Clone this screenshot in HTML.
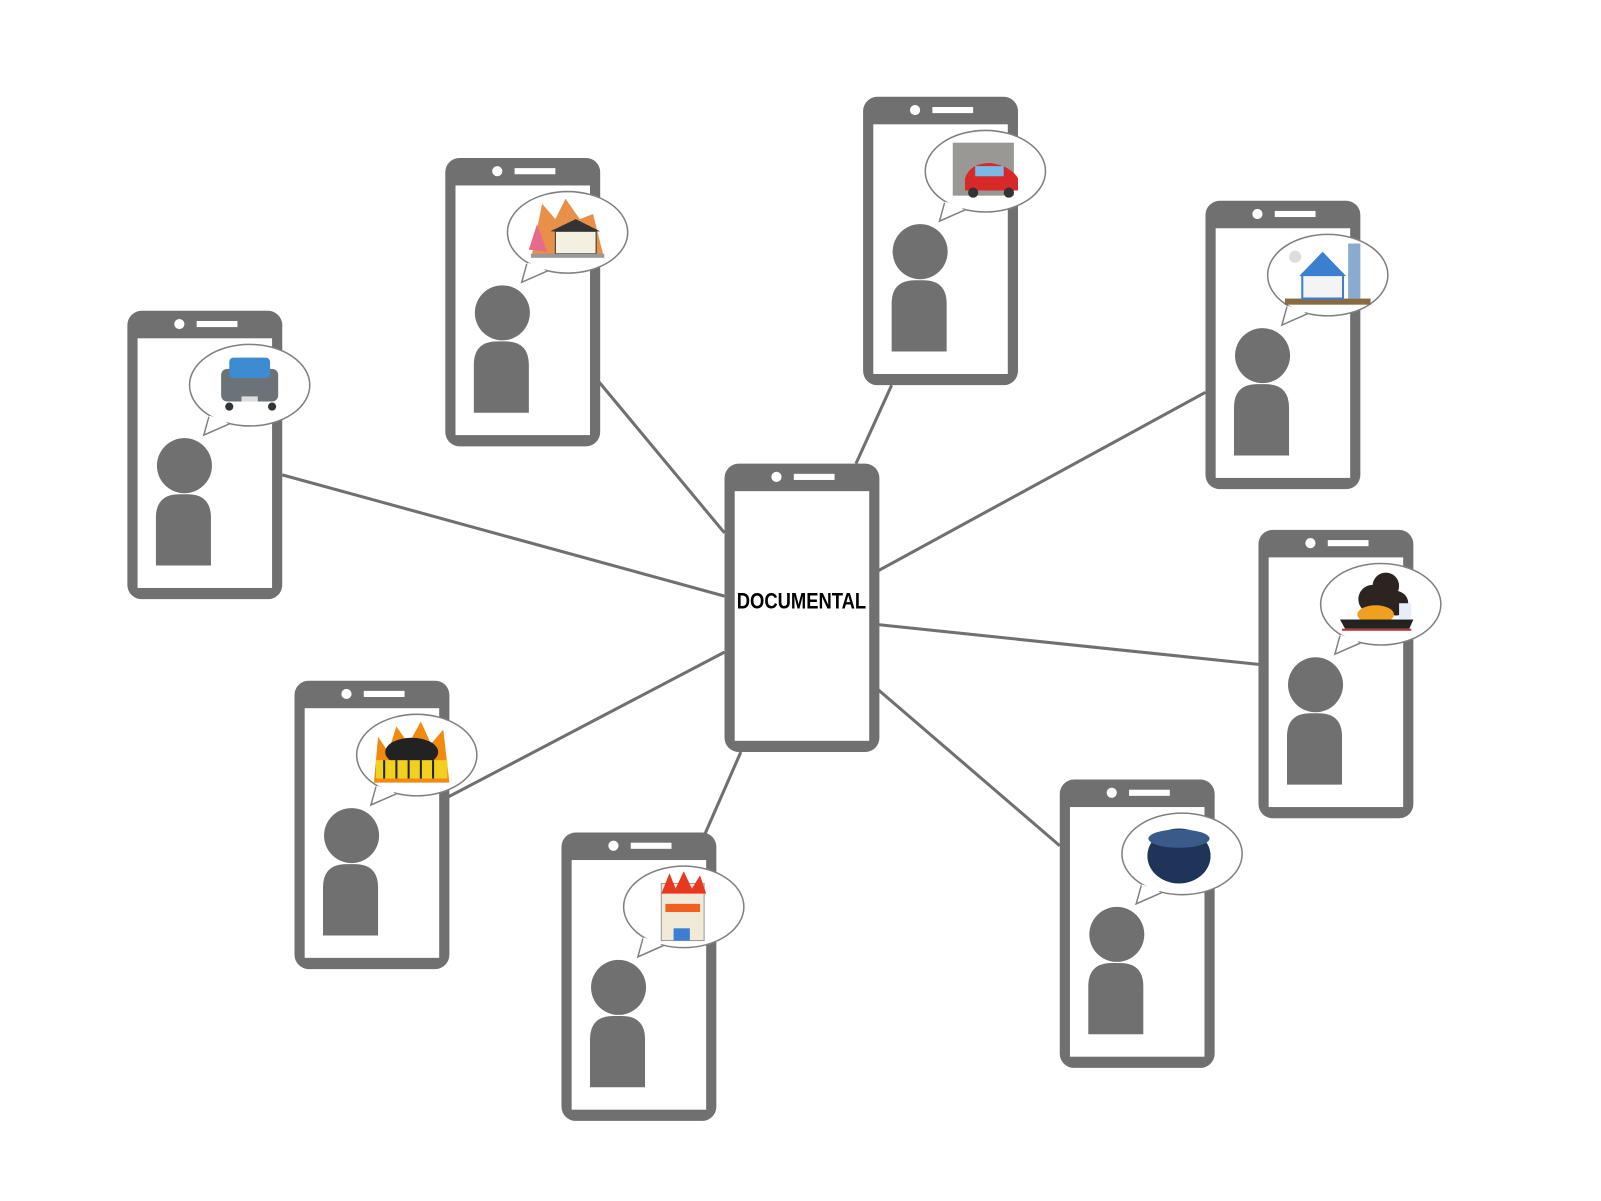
<!DOCTYPE html>
<html><head><meta charset="utf-8"><style>
html,body{margin:0;padding:0;background:#fff;width:1601px;height:1201px;overflow:hidden}
</style></head><body>
<svg width="1601" height="1201" viewBox="0 0 1601 1201" xmlns="http://www.w3.org/2000/svg">
<defs>
<g id="phone">
<rect x="0" y="0" width="152" height="283" rx="14" fill="#707070"/>
<rect x="10" y="27" width="132" height="245" fill="#fff"/>
<circle cx="51" cy="13" r="5" fill="#fff"/>
<rect x="68" y="10" width="40" height="6" fill="#fff"/>
</g>
<g id="person">
<circle cx="56" cy="152" r="27" fill="#707070"/>
<path d="M28,250 V203 Q28,180 51,180 H59 Q82,180 82,203 V250 Z" fill="#707070"/>
</g>
<g id="bubble">
<ellipse cx="120" cy="73" rx="59" ry="40" fill="#fff" stroke="#808080" stroke-width="1.5"/>
<path d="M80,104 L75,122 L100,111" fill="#fff" stroke="#808080" stroke-width="1.5"/>
<path d="M81,103 L77,118 L99,109 Z" fill="#fff"/>
</g>
</defs>
<g transform="scale(1.019)">
<g stroke="#707070" stroke-width="3" fill="none">
<line x1="277" y1="466" x2="711" y2="585"/>
<line x1="588" y1="375" x2="711" y2="523"/>
<line x1="875" y1="378" x2="840" y2="455"/>
<line x1="1183" y1="385" x2="862" y2="560"/>
<line x1="1235" y1="652" x2="862" y2="613"/>
<line x1="1040" y1="830" x2="862" y2="677"/>
<line x1="692" y1="818" x2="727" y2="738"/>
<line x1="440" y1="782" x2="711" y2="640"/>
</g>
<use href="#phone" x="711" y="455"/>
<text x="723" y="597" font-family="Liberation Sans, sans-serif" font-weight="bold" font-size="22" textLength="127" lengthAdjust="spacingAndGlyphs" fill="#000">DOCUMENTAL</text>

<g transform="translate(125,305)"><use href="#phone"/><use href="#person"/><use href="#bubble"/>
<rect x="92" y="57" width="56" height="32" rx="6" fill="#6b7378"/><rect x="100" y="46" width="40" height="20" rx="4" fill="#3d8bd0"/><circle cx="100" cy="94" r="4" fill="#333"/><circle cx="142" cy="94" r="4" fill="#333"/><rect x="112" y="84" width="16" height="5" fill="#ddd"/></g>
<g transform="translate(437,155)"><use href="#phone"/><use href="#person"/><use href="#bubble"/>
<path d="M85,95 L95,45 L108,60 L118,40 L132,60 L145,55 L155,95 Z" fill="#e8904a"/><path d="M82,90 L90,65 L100,92 Z" fill="#e86a8a"/><rect x="108" y="72" width="40" height="22" fill="#f4f0e0" stroke="#333"/><path d="M103,72 L128,60 L152,72 Z" fill="#333"/><rect x="84" y="94" width="72" height="4" fill="#999"/></g>
<g transform="translate(847,95)"><use href="#phone"/><use href="#person"/><use href="#bubble"/>
<rect x="88" y="45" width="60" height="52" fill="#9a9894"/><path d="M100,80 Q105,65 125,65 Q145,68 152,80 L152,92 L100,92 Z" fill="#d8282a"/><rect x="110" y="68" width="28" height="10" fill="#7ab8e8"/><circle cx="108" cy="94" r="5" fill="#333"/><circle cx="143" cy="94" r="5" fill="#333"/></g>
<g transform="translate(1183,197)"><use href="#phone"/><use href="#person"/><use href="#bubble"/>
<rect x="78" y="96" width="84" height="6" fill="#8a6a40"/><path d="M95,96 V72 L115,55 L135,72 V96 Z" fill="#f4f4f4" stroke="#3b7fd0" stroke-width="2"/><path d="M92,74 L115,50 L138,74 Z" fill="#3b7fd0"/><rect x="140" y="42" width="12" height="54" fill="#8aaad0"/><circle cx="88" cy="55" r="6" fill="#ddd"/></g>
<g transform="translate(1235,520)"><use href="#phone"/><use href="#person"/><use href="#bubble"/>
<circle cx="125" cy="55" r="13" fill="#2b2420"/><circle cx="112" cy="68" r="14" fill="#2b2420"/><circle cx="135" cy="72" r="12" fill="#2b2420"/><ellipse cx="115" cy="83" rx="18" ry="9" fill="#f0a020"/><path d="M80,88 H152 L148,97 H85 Z" fill="#222"/><rect x="138" y="72" width="12" height="16" fill="#e8eef8"/><rect x="82" y="97" width="68" height="2" fill="#c03030"/></g>
<g transform="translate(1040,765)"><use href="#phone"/><use href="#person"/><use href="#bubble"/>
<ellipse cx="117" cy="75" rx="31" ry="27" fill="#1e3458"/><ellipse cx="117" cy="58" rx="30" ry="9" fill="#3a5a8a"/></g>
<g transform="translate(551,817)"><use href="#phone"/><use href="#person"/><use href="#bubble"/>
<rect x="98" y="50" width="42" height="56" fill="#f2ead8" stroke="#999"/><path d="M98,60 L106,40 L112,55 L120,38 L128,55 L136,42 L142,60 Z" fill="#e83820"/><rect x="102" y="70" width="34" height="8" fill="#f06020"/><rect x="110" y="94" width="16" height="12" fill="#3b7fd0"/></g>
<g transform="translate(289,668)"><use href="#phone"/><use href="#person"/><use href="#bubble"/>
<path d="M78,100 L82,55 L92,70 L100,45 L112,62 L124,40 L134,62 L146,48 L152,100 Z" fill="#f08a10"/><ellipse cx="115" cy="70" rx="26" ry="14" fill="#222"/><rect x="80" y="78" width="70" height="18" fill="#f2d020"/><g stroke="#222" stroke-width="2"><line x1="88" y1="78" x2="88" y2="96"/><line x1="100" y1="78" x2="100" y2="96"/><line x1="112" y1="78" x2="112" y2="96"/><line x1="124" y1="78" x2="124" y2="96"/><line x1="136" y1="78" x2="136" y2="96"/></g></g>
</g>
</svg>
</body></html>
